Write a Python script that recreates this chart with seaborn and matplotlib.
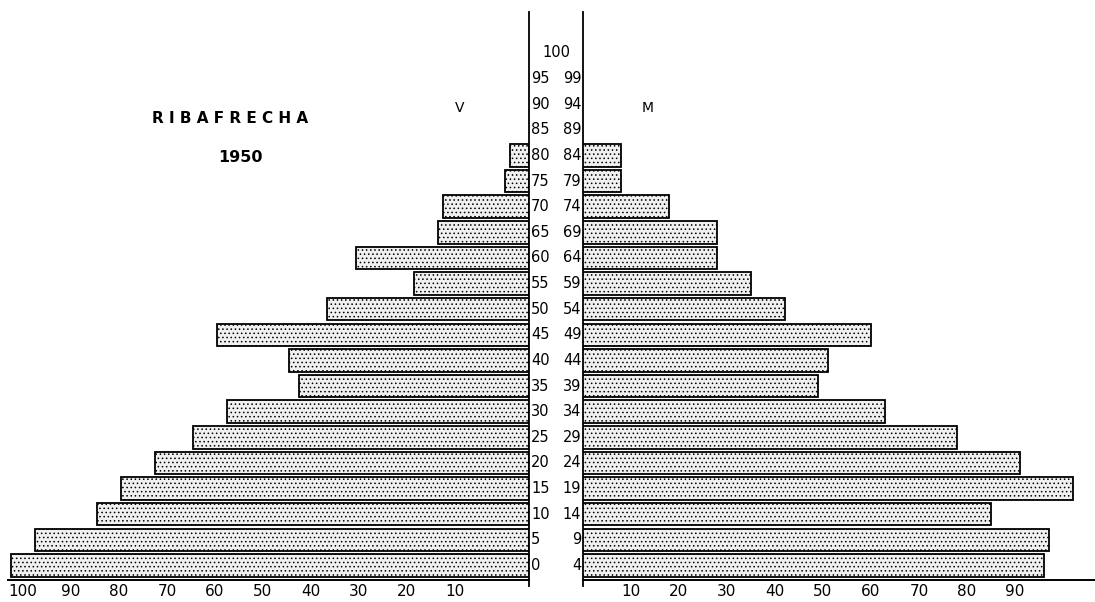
import matplotlib
matplotlib.use("Agg")
import matplotlib.pyplot as plt
import matplotlib.transforms as mtransforms
import pandas as pd
import seaborn as sns

sns.set_style("white")
plt.rcParams["font.family"] = ["DejaVu Sans"]
plt.rcParams["hatch.linewidth"] = 0.6
plt.rcParams["text.color"] = "black"
plt.rcParams["xtick.color"] = "black"
plt.rcParams["axes.labelcolor"] = "black"

# age groups (lower bound) and counts per sex, youngest first
age_lo = [0, 5, 10, 15, 20, 25, 30, 35, 40, 45, 50, 55, 60, 65, 70, 75, 80]
age_hi = [4, 9, 14, 19, 24, 29, 34, 39, 44, 49, 54, 59, 64, 69, 74, 79, 84]
varones = [108, 103, 90, 85, 78, 70, 63, 48, 50, 65, 42, 24, 36, 19, 18, 5, 4]
mujeres = [96, 97, 85, 102, 91, 78, 63, 49, 51, 60, 42, 35, 28, 28, 18, 8, 8]
# empty age rows shown in the centre column
extra_lo = [85, 90, 95]
extra_hi = [89, 94, 99]
left_ticks = [10, 20, 30, 40, 50, 60, 70, 80, 90, 100]
right_ticks = [10, 20, 30, 40, 50, 60, 70, 80, 90]

df = pd.DataFrame({"grupo": [str(a) for a in age_lo], "V": varones, "M": mujeres})
order = [str(a) for a in age_lo[::-1]]

W, H = 1095, 602
fig = plt.figure(figsize=(W / 100, H / 100), dpi=100)
px = 4.8  # pixels per unit
row_px = 25.625
x_left, x_mid0, x_mid1 = 8, 529, 583
y_top, y_bot, y_mid_bot = 12, 580, 586
bottom = (H - y_bot) / H
height = (y_bot - y_top) / H
ylim = (16.57, -5.6)

ax_l = fig.add_axes([x_left / W, bottom, (x_mid0 - x_left) / W, height])
ax_m = fig.add_axes([x_mid0 / W, (H - y_mid_bot) / H, (x_mid1 - x_mid0) / W,
                     (y_mid_bot - y_top) / H])
ax_r = fig.add_axes([x_mid1 / W, bottom, (W - x_mid1) / W, height])

bar_kw = dict(color="#f0f0f0", saturation=1, edgecolor="black",
              linewidth=1.3, width=0.88, hatch="....", orient="h")
sns.barplot(data=df, x="V", y="grupo", order=order, ax=ax_l, **bar_kw)
sns.barplot(data=df, x="M", y="grupo", order=order, ax=ax_r, **bar_kw)

ax_l.set_xlim((x_mid0 - x_left) / px, 0)
ax_r.set_xlim(0, (W - x_mid1) / px)

for ax in (ax_l, ax_r):
    ax.set_ylim(*ylim)
    ax.set_yticks([])
    ax.set_xlabel("")
    ax.set_ylabel("")
    for s in ("top", "left", "right"):
        ax.spines[s].set_visible(False)
    ax.spines["bottom"].set_linewidth(1.4)
    ax.spines["bottom"].set_color("black")
    ax.tick_params(axis="x", length=0, pad=3, labelsize=11)
    ax.set_facecolor("none")

ax_l.set_xticks(left_ticks)
ax_l.set_xticklabels([str(t) for t in left_ticks])
shift = mtransforms.ScaledTranslation(-0.26, 0, fig.dpi_scale_trans)
for lab in ax_l.get_xticklabels():
    lab.set_transform(lab.get_transform() + shift)
ax_r.set_xticks(right_ticks)
ax_r.set_xticklabels([str(t) for t in right_ticks])

# centre column with the age labels
ax_m.set_xlim(0, 1)
ax_m.set_ylim(ylim[0] + (y_mid_bot - y_bot) / row_px, ylim[1])
ax_m.set_xticks([])
ax_m.set_yticks([])
ax_m.set_facecolor("none")
for s in ("top", "bottom"):
    ax_m.spines[s].set_visible(False)
for s in ("left", "right"):
    ax_m.spines[s].set_linewidth(1.3)
    ax_m.spines[s].set_color("black")

all_lo = age_lo + extra_lo
all_hi = age_hi + extra_hi
for lo, hi in zip(all_lo, all_hi):
    pos = 16 - lo / 5
    ax_m.text(0.04, pos, str(lo), ha="left", va="center", fontsize=10.5)
    ax_m.text(0.97, pos, str(hi), ha="right", va="center", fontsize=10.5)
ax_m.text(0.5, 16 - 100 / 5, "100", ha="center", va="center", fontsize=10.5)

fig.text(230 / W, 1 - 118 / H, "R I B A F R E C H A", ha="center", va="center",
         fontsize=11, fontweight="bold",
         family=["Liberation Sans Narrow", "DejaVu Sans"])
fig.text(240 / W, 1 - 157 / H, "1950", ha="center", va="center",
         fontsize=11.5, fontweight="bold",
         family=["Liberation Sans Narrow", "DejaVu Sans"])
fig.text(460 / W, 1 - 108 / H, "V", ha="center", va="center", fontsize=10)
fig.text(648 / W, 1 - 108 / H, "M", ha="center", va="center", fontsize=10)

fig.savefig("out.png", dpi=100)
